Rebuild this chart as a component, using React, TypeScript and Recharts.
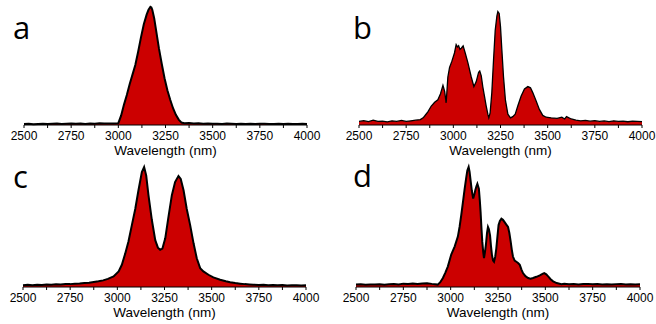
import { Area, AreaChart, XAxis, YAxis } from "recharts";

// wavelength (nm), relative intensity (0-100)
const spectrumA: [number, number][] = [
  [2500, 0.8], [2525, 1], [2550, 0.7], [2575, 0.9], [2600, 1.1], [2625, 0.8], [2650, 1], [2675, 1.2],
  [2700, 0.9], [2725, 1.1], [2750, 1.3], [2775, 1], [2800, 1.2], [2825, 0.9], [2850, 1.3], [2875, 1.1],
  [2900, 1.4], [2925, 1.2], [2950, 1.3], [2975, 1.2], [3000, 1.5], [3015, 8], [3030, 17], [3045, 25],
  [3060, 34], [3075, 42], [3090, 50], [3105, 61], [3120, 73], [3135, 84], [3150, 92], [3160, 96],
  [3170, 98.5], [3175, 98], [3180, 96], [3190, 89], [3200, 79], [3215, 64], [3230, 51], [3245, 39],
  [3260, 29], [3275, 21], [3290, 14], [3305, 8.5], [3320, 4.5], [3335, 2], [3350, 1.5], [3375, 1.6],
  [3400, 1.3], [3425, 1.4], [3450, 1.1], [3475, 1.2], [3500, 1], [3525, 1.1], [3550, 0.9], [3575, 1.2],
  [3600, 1], [3625, 0.8], [3650, 1.1], [3675, 0.9], [3700, 1], [3725, 0.8], [3750, 1], [3775, 1.1],
  [3800, 0.9], [3825, 0.8], [3850, 1], [3875, 0.9], [3900, 1.1], [3925, 0.8], [3950, 0.9], [3975, 1],
  [4000, 0.8],
];

const spectrumB: [number, number][] = [
  [2500, 3], [2525, 3.6], [2550, 2.8], [2575, 4], [2600, 3], [2625, 3.3], [2650, 2.6], [2675, 3.5],
  [2700, 3], [2725, 3.8], [2750, 3], [2775, 3.5], [2800, 4], [2825, 4.5], [2840, 6], [2848, 7.5],
  [2865, 11], [2883, 15.8], [2901, 19], [2918, 21], [2932, 26], [2945, 33], [2954, 28], [2962, 18.5],
  [2971, 40], [2980, 48], [2992, 53], [3006, 60], [3015, 67], [3022, 65], [3028, 66], [3035, 63],
  [3042, 64], [3052, 66], [3063, 60], [3077, 52], [3095, 40], [3109, 32], [3121, 36], [3134, 44],
  [3140, 45], [3148, 41], [3156, 32], [3165, 24], [3174, 16], [3183, 9], [3188, 6], [3195, 10],
  [3204, 27], [3213, 54], [3222, 79], [3231, 91], [3236, 94.5], [3243, 93], [3250, 82], [3257, 63],
  [3266, 40], [3276, 21], [3289, 9], [3303, 6], [3315, 7], [3328, 9], [3342, 16], [3359, 24],
  [3377, 30], [3395, 32], [3409, 31], [3421, 27], [3439, 20], [3456, 13], [3474, 8], [3492, 6.5],
  [3518, 6], [3550, 5.5], [3575, 6.5], [3590, 5], [3600, 7], [3625, 5], [3650, 4], [3675, 3.5],
  [3700, 3.8], [3725, 3.2], [3750, 3.6], [3775, 3], [3800, 3.4], [3825, 2.8], [3850, 3.5], [3875, 3],
  [3900, 3.3], [3925, 2.7], [3950, 3.2], [3975, 3], [4000, 2.8],
];

const spectrumC: [number, number][] = [
  [2500, 1.5], [2525, 1.8], [2550, 1.4], [2575, 1.9], [2600, 1.7], [2625, 2.1], [2650, 1.8], [2675, 2.3],
  [2700, 2.1], [2725, 2.5], [2750, 2.4], [2775, 2.8], [2800, 3], [2825, 3.3], [2850, 3.6], [2875, 4.2],
  [2900, 4.8], [2925, 5.5], [2950, 6.8], [2980, 8.8], [3007, 13], [3024, 18.5], [3042, 28], [3059, 38],
  [3077, 51.6], [3095, 65], [3112, 80.6], [3130, 95.8], [3142, 100], [3153, 93], [3165, 76.5], [3183, 55.8],
  [3201, 39], [3215, 32.8], [3227, 31], [3239, 32], [3254, 40.6], [3271, 58.5], [3289, 76.5], [3306, 87.5],
  [3324, 92.5], [3336, 90], [3351, 80.6], [3368, 65], [3386, 51.6], [3404, 36.4], [3421, 24], [3439, 15.7],
  [3456, 13], [3483, 10.2], [3509, 8], [3545, 6], [3575, 4.8], [3598, 4], [3625, 3.3], [3651, 2.8],
  [3675, 2.4], [3700, 2.1], [3721, 1.9], [3750, 1.7], [3775, 1.8], [3800, 1.5], [3825, 1.6], [3850, 1.4],
  [3875, 1.6], [3900, 1.3], [3925, 1.5], [3950, 1.4], [3975, 1.3], [4000, 1.4],
];

const spectrumD: [number, number][] = [
  [2500, 2], [2525, 2.2], [2550, 1.8], [2575, 2.1], [2600, 2], [2625, 2.3], [2650, 1.9], [2675, 2.2],
  [2700, 2.4], [2725, 2.1], [2750, 2.8], [2775, 2.5], [2800, 2.9], [2825, 2.6], [2850, 3], [2875, 3.2],
  [2900, 2.6], [2932, 2], [2945, 4], [2959, 7.5], [2972, 12], [2985, 17], [3003, 27], [3021, 33.7],
  [3038, 42], [3047, 50], [3056, 60], [3065, 71], [3074, 82], [3082, 91], [3088, 97], [3095, 100],
  [3100, 96], [3105, 89], [3112, 80], [3119, 73.7], [3125, 77], [3130, 80.6], [3136, 84], [3141, 86],
  [3149, 82], [3154, 72], [3158, 62.6], [3163, 48], [3167, 37.8], [3172, 29], [3176, 24], [3181, 29],
  [3186, 35], [3192, 45], [3197, 50], [3202, 48], [3208, 43], [3213, 34], [3218, 26.8], [3224, 22],
  [3229, 21], [3235, 25], [3241, 32], [3247, 42], [3253, 51.6], [3260, 55], [3268, 57], [3276, 56],
  [3285, 54], [3294, 52], [3303, 50], [3310, 45], [3317, 37.8], [3323, 31], [3329, 25.4], [3338, 22],
  [3347, 21], [3356, 20], [3365, 18.5], [3374, 14.5], [3382, 11.6], [3395, 9], [3409, 7.5], [3422, 7],
  [3435, 7.5], [3453, 8.5], [3471, 9.7], [3485, 11], [3494, 11.6], [3505, 10.5], [3515, 8.8], [3528, 6.5],
  [3541, 4.7], [3560, 3.3], [3585, 2.3], [3600, 2.6], [3625, 2.2], [3650, 2.5], [3675, 2.1], [3700, 2.4],
  [3725, 2.6], [3750, 2.2], [3775, 2.5], [3800, 2.1], [3825, 2.3], [3850, 2], [3875, 2.2], [3900, 2.4],
  [3925, 2], [3950, 2.3], [3975, 2.1], [4000, 2.2],
];

const xTicks = [2500, 2625, 2750, 2875, 3000, 3125, 3250, 3375, 3500, 3625, 3750, 3875, 4000];
const panelLetters = ["a", "b", "c", "d"];
const xLabel = "Wavelength (nm)";

const FILL = "#cc0000";
const FONT = "'Liberation Sans', Arial, sans-serif";

const panels = [
  { data: spectrumA, left: 0, top: 0, ml: 24, mr: 21, sw: 2, lx: 13, ly: 39 },
  { data: spectrumB, left: 328, top: 0, ml: 31, mr: 14, sw: 1.3, lx: 353, ly: 39 },
  { data: spectrumC, left: 0, top: 162, ml: 23, mr: 22, sw: 2, lx: 13, ly: 188 },
  { data: spectrumD, left: 328, top: 162, ml: 28, mr: 16, sw: 2, lx: 353, ly: 187 },
];

function Spectrum({ data, ml, mr, sw }: { data: [number, number][]; ml: number; mr: number; sw: number }) {
  const rows = data.map(([wl, v]) => ({ wl, v }));
  return (
    <AreaChart
      width={328}
      height={162}
      data={rows}
      margin={{ top: 5, right: mr, bottom: 0, left: ml }}
      style={{ fontFamily: FONT }}
    >
      <XAxis
        dataKey="wl"
        type="number"
        domain={[2500, 4000]}
        ticks={xTicks}
        interval={0}
        height={37}
        tickSize={3}
        tickMargin={3}
        stroke="#000"
        tick={{ fill: "#000", fontSize: 12 }}
        tickFormatter={(t: number) => (t % 250 === 0 ? String(t) : "")}
        label={{ value: xLabel, position: "insideBottom", offset: 7, fill: "#000", fontSize: 13.5 }}
      />
      <YAxis hide domain={[0, 100]} />
      <Area
        type="linear"
        dataKey="v"
        stroke="#000"
        strokeWidth={sw}
        fill={FILL}
        fillOpacity={1}
        dot={false}
        activeDot={false}
        isAnimationActive={false}
      />
    </AreaChart>
  );
}

export default function App() {
  return (
    <div style={{ position: "absolute", left: 0, top: 0, width: 656, height: 324, background: "#fff", overflow: "hidden" }}>
      {panels.map((p, i) => (
        <div key={i} style={{ position: "absolute", left: p.left, top: p.top }}>
          <Spectrum data={p.data} ml={p.ml} mr={p.mr} sw={p.sw} />
        </div>
      ))}
      <svg width={656} height={324} style={{ position: "absolute", left: 0, top: 0, pointerEvents: "none" }}>
        {panels.map((p, i) => (
          <text key={i} x={p.lx} y={p.ly} fontSize={31} fontFamily="'Open Sans', sans-serif" fill="#000">
            {panelLetters[i]}
          </text>
        ))}
      </svg>
    </div>
  );
}
